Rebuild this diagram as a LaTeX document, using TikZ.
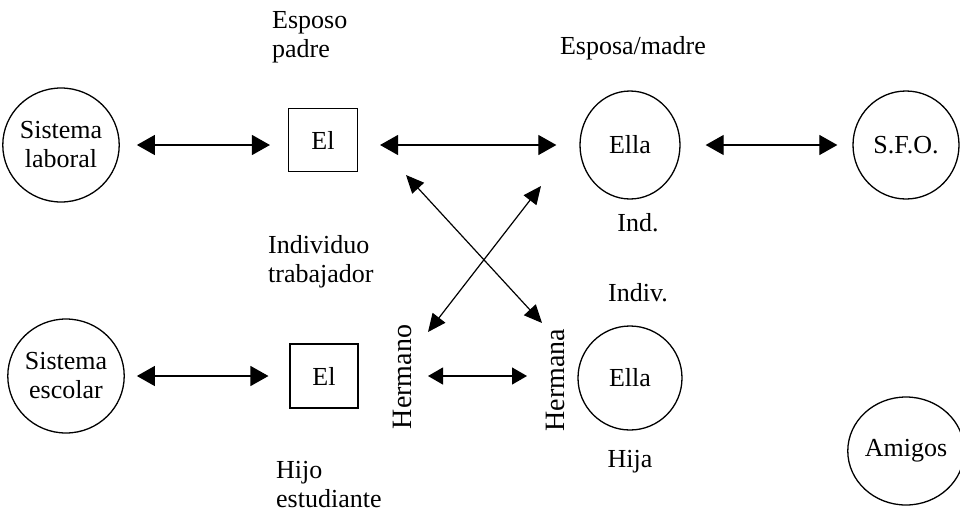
\documentclass[tikz,border=0pt]{standalone}
\usepackage{fontspec}
\setmainfont{Liberation Serif}
\usetikzlibrary{arrows.meta,shapes.geometric}
\begin{document}
\begin{tikzpicture}[x=1pt,y=-1pt,
  every node/.style={font=\fontsize{26}{29}\selectfont, inner sep=0pt},
  sys/.style={ellipse, draw, line width=1.3pt, align=center},
  ebox/.style={rectangle, draw, line width=1.1pt, minimum width=69pt, minimum height=63pt},
  lbl/.style={align=left, anchor=north west},
  rot/.style={rotate=90, font=\fontsize{28}{30}\selectfont},
  biarrow/.style={{Triangle[length=18pt,width=20pt]}-{Triangle[length=18pt,width=20pt]}, line width=1.2pt},
  crossarrow/.style={{Triangle[length=18pt,width=16pt]}-{Triangle[length=18pt,width=16pt]}, line width=1.2pt},
  smallarrow/.style={{Triangle[length=15pt,width=17pt]}-{Triangle[length=15pt,width=17pt]}, line width=1.2pt}]
\useasboundingbox (0,0) rectangle (960,512);

% top row
\node[sys, minimum width=112pt, minimum height=114pt] (sl) at (61,145) {Sistema\\laboral};
\node[ebox] (el1) at (323,140) {El};
\node[sys, minimum width=100pt, minimum height=108pt] (ella1) at (630,145) {Ella};
\node[sys, minimum width=106pt, minimum height=108pt] (sfo) at (906,145) {S.F.O.};

% bottom row
\node[sys, minimum width=110pt, minimum height=114pt] (se) at (66,376) {Sistema\\escolar};
\node[ebox, minimum width=68pt, minimum height=64pt] (el2) at (324,376) {El};
\node[sys, minimum width=104pt, minimum height=104pt] (ella2) at (630,378) {Ella};
\node[sys, minimum width=106pt, minimum height=108pt] (amigos) at (906,451) {Amigos};

% rotated labels
\node[rot] (hno) at (402,377) {Hermano};
\node[rot] (hna) at (555,380) {Hermana};

% text labels
\node[lbl] (esposo) at (272,11) {Esposo\\padre};
\node (esposa) at (633,48) {Esposa/madre};
\node (ind) at (638,223) {Ind.};
\node[lbl] (indiv) at (268,235) {Individuo\\trabajador};
\node (indiv2) at (638,293) {Indiv.};
\node (hija) at (630,462) {Hija};
\node[lbl] (hijo) at (276,461) {Hijo\\estudiante};

% cross arrow end points
\coordinate (c1a) at (406,175);
\coordinate (c1b) at (542,323);
\coordinate (c2a) at (541,186);
\coordinate (c2b) at (428,332);

% connectors
\draw[biarrow, shorten <=17pt, shorten >=18pt] (sl.east) -- (sl.east -| el1.west);
\draw[biarrow, shorten <=22pt, shorten >=23pt] (el1.east |- ella1.west) -- (ella1.west);
\draw[biarrow, shorten <=25pt, shorten >=15pt] (ella1.east) -- (sfo.west);
\draw[biarrow, shorten <=12pt, shorten >=21pt] (se.east) -- (se.east -| el2.west);
\draw[smallarrow, shorten <=26pt, shorten >=28pt] ([yshift=1pt]hno.center) -- ([yshift=1pt]hno.center -| hna.center);
\draw[crossarrow] (c1a) -- (c1b);
\draw[crossarrow] (c2a) -- (c2b);
\end{tikzpicture}
\end{document}
